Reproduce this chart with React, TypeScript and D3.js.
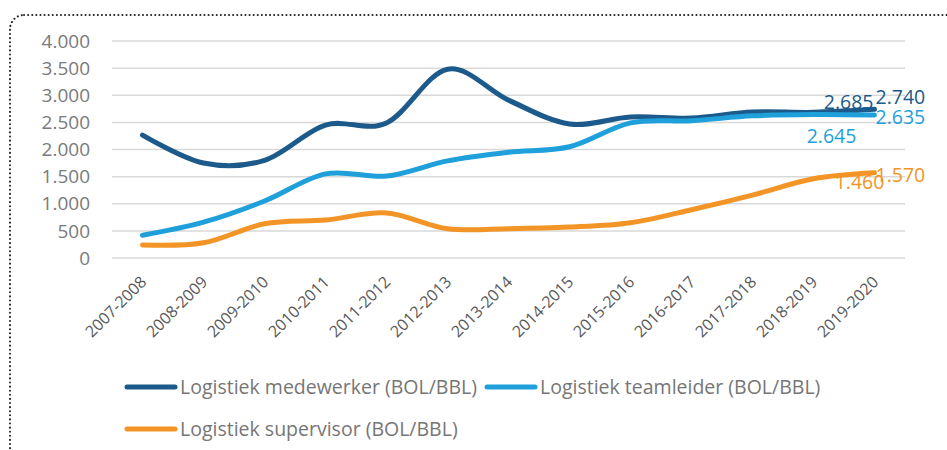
import { FC, useEffect, useRef } from 'react';
import * as d3 from 'd3';

const years = [
  '2007-2008', '2008-2009', '2009-2010', '2010-2011', '2011-2012', '2012-2013', '2013-2014',
  '2014-2015', '2015-2016', '2016-2017', '2017-2018', '2018-2019', '2019-2020',
];
const medewerker = [2265, 1750, 1800, 2450, 2490, 3480, 2910, 2470, 2600, 2580, 2690, 2685, 2740];
const teamleider = [420, 660, 1050, 1550, 1510, 1790, 1950, 2050, 2490, 2530, 2620, 2645, 2635];
const supervisor = [240, 280, 630, 700, 830, 540, 540, 570, 650, 890, 1160, 1460, 1570];
const yTicks = [0, 500, 1000, 1500, 2000, 2500, 3000, 3500, 4000];

const seriesNames = [
  'Logistiek medewerker (BOL/BBL)',
  'Logistiek teamleider (BOL/BBL)',
  'Logistiek supervisor (BOL/BBL)',
];
const colors = ['#1B5A8A', '#1FA0DA', '#F39426'];

const fmt = (v: number) => (v === 0 ? '0' : d3.format(',')(v).replace(/,/g, '.'));

const App: FC = () => {
  const ref = useRef<SVGSVGElement>(null);

  useEffect(() => {
    const svg = d3.select(ref.current);
    svg.selectAll('*').remove();
    const font = '"Open Sans", sans-serif';

    // dotted frame
    svg
      .append('rect')
      .attr('x', 10)
      .attr('y', 15)
      .attr('width', 960)
      .attr('height', 470)
      .attr('rx', 14)
      .attr('fill', 'none')
      .attr('stroke', '#222')
      .attr('stroke-width', 2)
      .attr('stroke-dasharray', '0.1 4')
      .attr('stroke-linecap', 'round');

    const x = d3.scaleBand().domain(years).range([112, 905]);
    const y = d3.scaleLinear().domain([0, 4000]).range([258, 41]);
    const cx = (d: string) => x(d)! + x.bandwidth() / 2;

    // gridlines
    svg
      .append('g')
      .selectAll('line')
      .data(yTicks)
      .enter()
      .append('line')
      .attr('x1', 112)
      .attr('x2', 905)
      .attr('y1', (d) => y(d))
      .attr('y2', (d) => y(d))
      .attr('stroke', '#D9D9D9')
      .attr('stroke-width', 1.5);

    // y labels
    svg
      .append('g')
      .selectAll('text')
      .data(yTicks)
      .enter()
      .append('text')
      .attr('x', 90)
      .attr('y', (d) => y(d))
      .attr('dy', '0.35em')
      .attr('text-anchor', 'end')
      .attr('fill', '#7A7A7A')
      .style('font-family', font)
      .style('font-size', '19px')
      .text((d) => fmt(d));

    // x labels
    svg
      .append('g')
      .selectAll('text')
      .data(years)
      .enter()
      .append('text')
      .attr('transform', (d) => `translate(${cx(d) + 1},${279}) rotate(-45)`)
      .attr('text-anchor', 'end')
      .attr('dy', '0.35em')
      .attr('fill', '#595959')
      .style('font-family', font)
      .style('font-size', '16px')
      .text((d) => d);

    const line = d3
      .line<number>()
      .x((_, i) => cx(years[i]))
      .y((d) => y(d))
      .curve(d3.curveCatmullRom.alpha(0));

    const all = [medewerker, teamleider, supervisor];
    all.forEach((s, i) => {
      svg
        .append('path')
        .attr('d', line(s)!)
        .attr('fill', 'none')
        .attr('stroke', colors[i])
        .attr('stroke-width', 5)
        .attr('stroke-linecap', 'round');
    });

    // data labels for the last two years
    const lab = (v: number, xx: number, yy: number, c: string, anchor: string) =>
      svg
        .append('text')
        .attr('x', xx)
        .attr('y', yy)
        .attr('dy', '0.35em')
        .attr('text-anchor', anchor)
        .attr('fill', c)
        .style('font-family', font)
        .style('font-size', '19.5px')
        .text(fmt(v));
    const n = years.length;
    const xl = cx(years[n - 1]);
    const xp = cx(years[n - 2]);
    lab(medewerker[n - 2], xl - 1, y(medewerker[n - 2]) - 10, colors[0], 'end');
    lab(medewerker[n - 1], xl + 1, y(medewerker[n - 1]) - 12, colors[0], 'start');
    lab(teamleider[n - 1], xl + 1, y(teamleider[n - 1]) + 2, colors[1], 'start');
    lab(teamleider[n - 2], xp + 18, y(teamleider[n - 2]) + 22, colors[1], 'middle');
    lab(supervisor[n - 1], xl + 1, y(supervisor[n - 1]) + 2, colors[2], 'start');
    lab(supervisor[n - 2], xp + 46, y(supervisor[n - 2]) + 3, colors[2], 'middle');

    // legend
    const legend = [
      { x: 125, y: 387 },
      { x: 485, y: 387 },
      { x: 125, y: 429 },
    ];
    legend.forEach((p, i) => {
      svg
        .append('line')
        .attr('x1', p.x + 2)
        .attr('x2', p.x + 50)
        .attr('y1', p.y)
        .attr('y2', p.y)
        .attr('stroke', colors[i])
        .attr('stroke-width', 5)
        .attr('stroke-linecap', 'round');
      svg
        .append('text')
        .attr('x', p.x + 55)
        .attr('y', p.y)
        .attr('dy', '0.35em')
        .attr('fill', '#767676')
        .style('font-family', font)
        .style('font-size', '19.5px')
        .text(seriesNames[i]);
    });
  }, []);

  return (
    <svg
      ref={ref}
      width={947}
      height={450}
      style={{ position: 'absolute', left: 0, top: 0, background: '#fff' }}
    />
  );
};

export default App;
